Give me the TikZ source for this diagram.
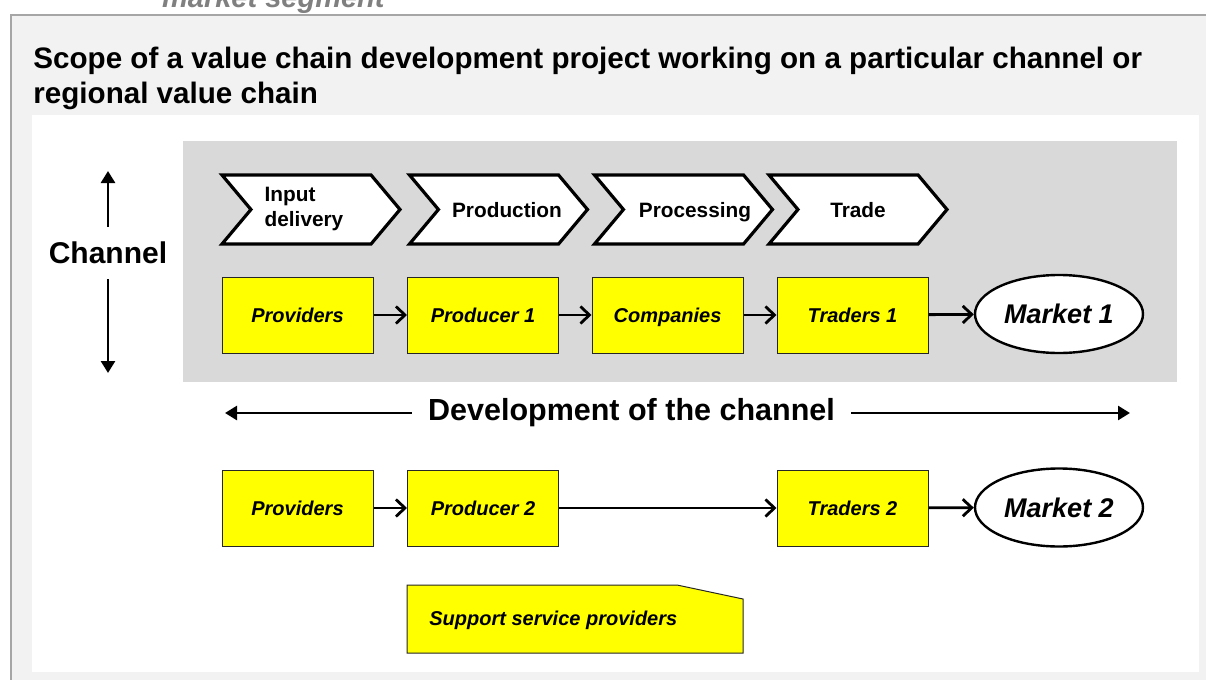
\documentclass[tikz,border=0pt]{standalone}
\usepackage{fontspec}
\setmainfont{Liberation Sans}
\usetikzlibrary{arrows.meta,shapes.geometric,shapes.symbols}

\definecolor{panelgray}{HTML}{F2F2F2}
\definecolor{bandgray}{HTML}{D9D9D9}
\definecolor{framegray}{HTML}{A6A6A6}
\definecolor{boxyellow}{HTML}{FFFF00}
\definecolor{topgray}{HTML}{808080}

\begin{document}
\begin{tikzpicture}[
  x=0.5pt, y=-0.5pt,
  every node/.style={font=\bfseries},
  stage/.style={draw, line width=1.6pt, fill=white, signal, signal from=west, signal to=east,
    signal pointer angle=100, minimum width=89pt, minimum height=34.5pt, inner sep=0pt,
    font=\fontsize{10.4}{12.5}\selectfont\bfseries},
  actor/.style={draw=black!85, line width=0.5pt, fill=boxyellow, minimum width=75.5pt,
    minimum height=38pt, inner sep=0pt, text height=7.2pt, text depth=0pt,
    font=\fontsize{10}{12}\selectfont\bfseries\itshape},
  market/.style={draw, ellipse, line width=1.2pt, fill=white, minimum width=84pt,
    minimum height=39pt, inner sep=0pt, font=\fontsize{13.5}{16}\selectfont\bfseries\itshape},
  flow/.style={-{Straight Barb[length=4.5pt,width=8.5pt,line width=1.4pt]}, line width=1.4pt},
  axis/.style={-{Triangle[length=6pt,width=7pt]}, line width=1.3pt}
]
  \clip (0,0) rectangle (1206,680);
  \useasboundingbox (0,0) rectangle (1206,680);

  % panels
  \fill[white] (0,0) rectangle (1206,680);
  \fill[panelgray] (11,15) rectangle (1206,680);
  \draw[framegray, line width=1pt] (11,680) -- (11,15) -- (1206,15);
  \fill[white] (32,115) rectangle (1199,672);
  \fill[bandgray] (183,141) rectangle (1177,382);

  \node[anchor=base east, inner sep=0pt, text=topgray, font=\fontsize{14.5}{17}\selectfont\bfseries\itshape]
    (segment) at (385,7) {market segment};
  \node[anchor=north west, inner sep=0pt, align=left, font=\fontsize{14.8}{17.5}\selectfont\bfseries]
    (title) at (33,47) {Scope of a value chain development project working on a particular channel or\\regional value chain};

  % channel axis
  \node[inner xsep=0pt, inner ysep=7.5pt, font=\fontsize{15}{18}\selectfont\bfseries] (channel) at (108,253) {Channel};
  \coordinate (chtop) at (108,171);
  \coordinate (chbot) at (108,373);
  \draw[axis] (channel.north) -- (chtop);
  \draw[axis] (channel.south) -- (chbot);

  % stages
  \node[stage, align=left] (input) at (311,209.5) {Input\\delivery\hspace*{7pt}};
  \node[stage, text height=7.5pt, text depth=0pt] (production) at (498.5,209.5) {\makebox[30pt]{\hspace{8.5pt}Production}};
  \node[stage, text height=7.5pt, text depth=0pt] (processing) at (683.5,209.5) {\makebox[30pt]{\hspace{11.5pt}Processing}};
  \node[stage, text height=7.5pt, text depth=0pt] (trade) at (858,209.5) {Trade};

  % channel 1
  \node[actor] (prov1) at (297.5,315) {Providers};
  \node[actor] (prod1) at (483,315) {Producer 1};
  \node[actor] (comp1) at (667.5,315) {Companies};
  \node[actor] (trad1) at (852.5,315) {Traders 1};
  \node[market] (mark1) at (1059,314) {Market 1};

  \draw[flow] (prov1) -- (prod1);
  \draw[flow] (prod1) -- (comp1);
  \draw[flow] (comp1) -- (trad1);
  \draw[flow] (trad1) -- (mark1);

  % development of the channel
  \node[inner xsep=8pt, font=\fontsize{15.25}{18}\selectfont\bfseries] (develop) at (631.5,413) {Development of the channel};
  \coordinate (devleft) at (225,413);
  \coordinate (devright) at (1130,413);
  \draw[axis] (develop.west) -- (devleft);
  \draw[axis] (develop.east) -- (devright);

  % channel 2
  \node[actor] (prov2) at (297.5,508) {Providers};
  \node[actor] (prod2) at (483,508) {Producer 2};
  \node[actor] (trad2) at (852.5,508) {Traders 2};
  \node[market] (mark2) at (1059,507.5) {Market 2};

  \draw[flow] (prov2) -- (prod2);
  \draw[flow] (prod2) -- (trad2);
  \draw[flow] (trad2) -- (mark2);

  % support services
  \filldraw[fill=boxyellow, draw=black!85, line width=0.5pt]
    (407,585) -- (677,585) -- (743,599) -- (743,653) -- (407,653) -- cycle;
  \node[anchor=west, inner sep=0pt, font=\fontsize{10}{12}\selectfont\bfseries\itshape]
    (support) at (429,620) {Support service providers};
\end{tikzpicture}
\end{document}
